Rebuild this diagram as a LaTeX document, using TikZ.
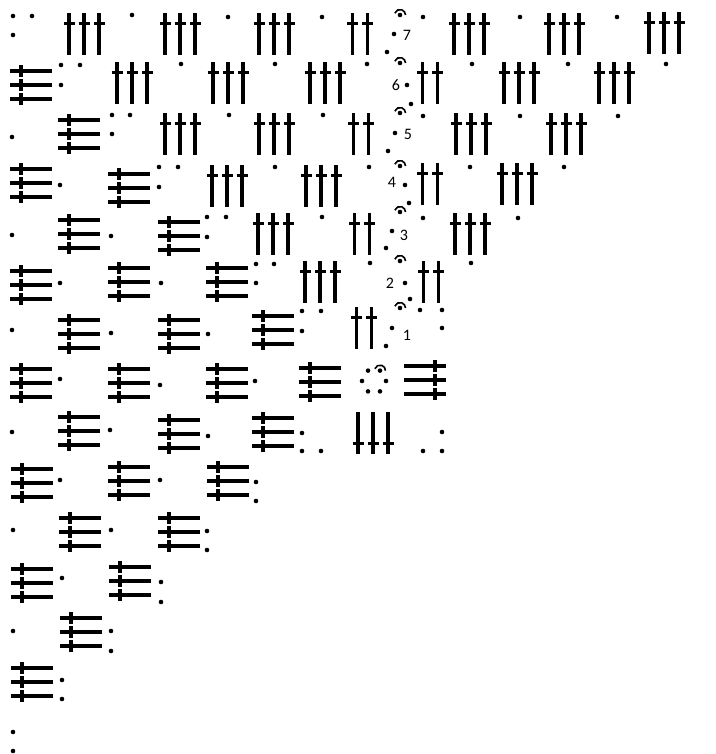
\documentclass[tikz,border=0pt]{standalone}
\usepackage{fontspec}
\setmainfont{Carlito}
\usepackage{tikz}

\begin{document}
\begin{tikzpicture}[
  x=0.75pt, y=-0.75pt,
  stitch/.style={line width=2.5pt},
  turn/.style={line width=1.2pt},
  lbl/.style={font=\fontsize{12}{14}\selectfont, inner sep=0pt},
  dc3/.pic={\foreach \dx in {-15,0,15}
    \draw[stitch] (\dx,-21) -- ++(0,42) (\dx-5.5,-10.5) -- ++(11,0);},
  dc2/.pic={\foreach \dx in {-7.5,7.5}
    \draw[stitch] (\dx,-21) -- ++(0,42) (\dx-5.5,-10.5) -- ++(11,0);},
  dcd3/.pic={\foreach \dx in {-15,0,15}
    \draw[stitch] (\dx,-21) -- ++(0,42) (\dx-5.5,10.5) -- ++(11,0);},
  dch3/.pic={\foreach \dy in {-14,0,14}
    \draw[stitch] (-21,\dy) -- ++(42,0) (-10,\dy-6) -- ++(0,12);},
  dchr3/.pic={\foreach \dy in {-14,0,14}
    \draw[stitch] (-21,\dy) -- ++(42,0) (10,\dy-6) -- ++(0,12);},
  spinech/.pic={\fill (0,0) circle (2.3);
    \draw[turn] (200:5.5) arc[start angle=200, end angle=360, radius=5.5];}
]
\useasboundingbox (0,0) rectangle (715,754);

% upright stitches
\foreach \x/\y in {84/34,180/34,274/34,469/34,564/34,664/33,
    132/83,228/83,325/83,519/83,614/83,
    180/134,274/134,471/134,566/134,
    227/186,321/186,517/184,
    273/234,470/234,
    320/282}
  \pic at (\x,\y) {dc3};
\foreach \x/\y in {360/34,430/83,361/134,430/184,362/234,431/282,364/328}
  \pic at (\x,\y) {dc2};

% stitches worked along the edge
\foreach \x/\y in {31/85,79/134,31/183,129/188,79/234,179/236,
    31/285,129/282,227/282,79/334,179/334,273/330,
    31/383,129/383,227/383,320/382,79/431,179/434,273/432,
    32/483,129/481,228/481,80/532,179/532,32/583,130/581,81/632,32/682}
  \pic at (\x,\y) {dch3};
\pic at (425,380) {dchr3};
\pic at (373,433) {dcd3};

% chains
\foreach \x/\y in {13/16,32/16,13/35,132/15,228/17,322/17,423/17,520/17,617/17,
    61/65,80/65,61/85,181/64,275/64,367/64,472/64,568/64,666/64,
    12/137,112/115,130/115,112/134,229/115,323/115,423/116,520/116,618/116,
    60/185,159/167,178/167,159/187,275/167,369/167,470/167,564/167,
    12/235,111/236,207/217,226/217,207/237,322/217,423/218,518/218,
    60/283,161/283,256/264,274/264,256/283,370/263,471/263,
    12/330,111/333,208/334,302/311,321/311,302/331,420/310,442/310,442/328,
    60/379,160/385,255/381,
    12/432,110/430,208/436,302/433,302/451,321/451,442/432,442/451,423/451,
    60/480,160/480,256/482,256/501,
    13/530,111/530,207/531,207/550,
    62/578,161/582,161/602,
    13/631,111/631,111/651,
    62/680,62/699,
    13/732,13/751}
  \fill (\x,\y) circle (2.3);

% centre ring
\foreach \a in {0,60,120,180,240}
  \fill (374,381) ++(\a:12) circle (2.3);
\pic at (380,370.6) {spinech};

% turning chains and row numbers
\foreach \t/\ya/\xd/\yd/\xn/\yn/\xe/\ye in {
    7/15/394/34/407/35/387/52,
    6/63/407/85/396/85/411/104,
    5/113/395/133/408/134/388/151,
    4/166/405/185/392/182/409/203,
    3/212/392/231/404/235/386/248,
    2/261/405/283/390/283/410/299,
    1/308/392/328/407/335/386/346}
{
  \pic at (400,\ya) {spinech};
  \fill (\xd,\yd) circle (2.3);
  \fill (\xe,\ye) circle (2.3);
  \node[lbl] (row\t) at (\xn,\yn) {\t};
}
\end{tikzpicture}
\end{document}
